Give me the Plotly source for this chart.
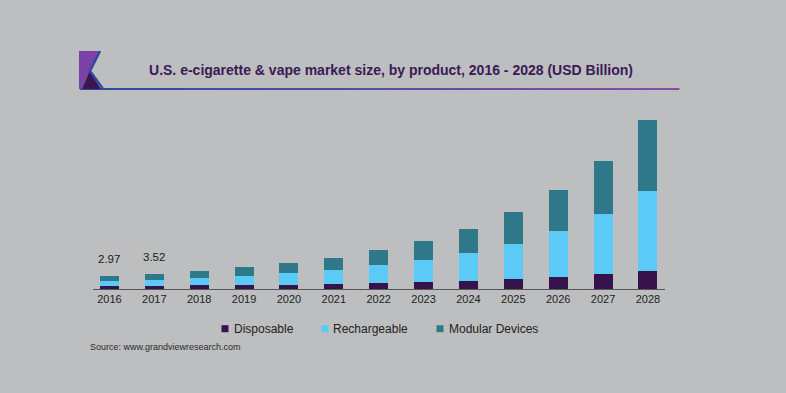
import plotly.graph_objects as go

# ---- data ----
years = ["2016", "2017", "2018", "2019", "2020", "2021", "2022",
         "2023", "2024", "2025", "2026", "2027", "2028"]
disposable = [0.60, 0.76, 0.85, 0.92, 0.99, 1.15, 1.38, 1.61, 1.84, 2.30, 2.83, 3.38, 4.14]
rechargeable = [1.22, 1.31, 1.68, 2.14, 2.60, 3.22, 4.07, 5.06, 6.51, 8.12, 10.51, 13.80, 18.40]
modular = [1.15, 1.45, 1.61, 1.93, 2.37, 2.76, 3.45, 4.37, 5.52, 7.22, 9.36, 12.33, 16.33]
label_years = ["2016", "2017"]
label_texts = ["2.97", "3.52"]

series_names = ["Disposable", "Rechargeable", "Modular Devices"]
series_colors = ["#36134a", "#5ccaf6", "#2f7889"]

W, H = 786, 393
L, R, T, B = 93, 665, 110, 289  # plot area in pixels
BG = "#bcbec0"
FONT = "Arial, Liberation Sans, sans-serif"


def px(x):
    return (x - L) / (R - L)


def py(y):
    return (B - y) / (B - T)


fig = go.Figure()
for name, vals, col in zip(series_names, [disposable, rechargeable, modular], series_colors):
    fig.add_trace(go.Bar(x=years, y=vals, name=name, marker=dict(color=col, line=dict(width=0)),
                         showlegend=False, hoverinfo="x+y+name"))

# total labels
totals = [d + r + m for d, r, m in zip(disposable, rechargeable, modular)]
for yr, txt in zip(label_years, label_texts):
    i = years.index(yr)
    fig.add_annotation(x=i, y=totals[i], text=txt, showarrow=False, yanchor="bottom",
                       yshift=9, font=dict(size=11.5, color="#1a1a1a", family=FONT))

shapes = []
# gradient line under title
x0, x1 = 80, 679
n = 40
c0 = (44, 76, 158)
c1 = (136, 78, 160)
for i in range(n):
    a = x0 + (x1 - x0) * i / n
    b = x0 + (x1 - x0) * (i + 1) / n + 0.5
    t = i / (n - 1)
    c = tuple(int(round(c0[k] + (c1[k] - c0[k]) * t)) for k in range(3))
    shapes.append(dict(type="line", xref="paper", yref="paper", x0=px(a), x1=px(b),
                       y0=py(89), y1=py(89), line=dict(color="rgb(%d,%d,%d)" % c, width=2)))


def path(points, close=True):
    s = "M " + " L ".join("%f,%f" % (px(x), py(y)) for x, y in points)
    return s + (" Z" if close else "")


# logo
shapes.append(dict(type="path", xref="paper", yref="paper",
                   path=path([(79, 51), (99, 51), (89.5, 71), (82, 89), (79, 89)]),
                   fillcolor="#7a42a4", line=dict(width=0)))
shapes.append(dict(type="path", xref="paper", yref="paper",
                   path=path([(82, 89), (89.5, 71), (101, 89)]),
                   fillcolor="#3a1552", line=dict(width=0)))
shapes.append(dict(type="path", xref="paper", yref="paper",
                   path=path([(100, 51), (90, 71), (103, 89)], close=False),
                   line=dict(color="#2d4aa0", width=2.5)))

# custom legend (small squares + labels)
legend_square_x = [225, 325, 440]
legend_text_x = [231.5, 331, 446.5]
for name, col, sx, tx in zip(series_names, series_colors, legend_square_x, legend_text_x):
    shapes.append(dict(type="rect", xref="paper", yref="paper",
                       x0=px(sx - 3.5), x1=px(sx + 3.5), y0=py(332.2), y1=py(325.2),
                       fillcolor=col, line=dict(width=0)))
    fig.add_annotation(xref="paper", yref="paper", x=px(tx), y=py(328.5), xanchor="left",
                       yanchor="middle", text=name, showarrow=False,
                       font=dict(size=12, color="#222222", family=FONT))

fig.add_annotation(xref="paper", yref="paper", x=px(88), y=py(347), xanchor="left", yanchor="middle",
                   text="Source: www.grandviewresearch.com", showarrow=False,
                   font=dict(size=9, color="#2a2a2a", family=FONT))

fig.update_layout(
    width=W, height=H,
    margin=dict(l=L, r=W - R, t=T, b=H - B, pad=0),
    paper_bgcolor=BG, plot_bgcolor=BG,
    barmode="stack", bargap=0.577,
    showlegend=False,
    font=dict(family=FONT, color="#222222"),
    title=dict(text="<b>U.S. e-cigarette & vape market size, by product, 2016 - 2028 (USD Billion)</b>",
               x=391 / W, xanchor="center", y=1 - 70 / H, yanchor="middle",
               font=dict(size=14, color="#3a1a55", family=FONT)),
    xaxis=dict(type="category", range=[-0.367, 12.38], showline=True, linecolor="#555555",
               linewidth=1, ticks="", showgrid=False, zeroline=False,
               tickfont=dict(size=11, color="#222222", family=FONT)),
    yaxis=dict(range=[0, 41.17], visible=False, showgrid=False, zeroline=False),
    shapes=shapes,
    hovermode="closest",
)

fig.write_html("out.html", config={"displayModeBar": False},
               post_script="document.body.style.margin='0';document.body.style.background='%s';" % BG)
